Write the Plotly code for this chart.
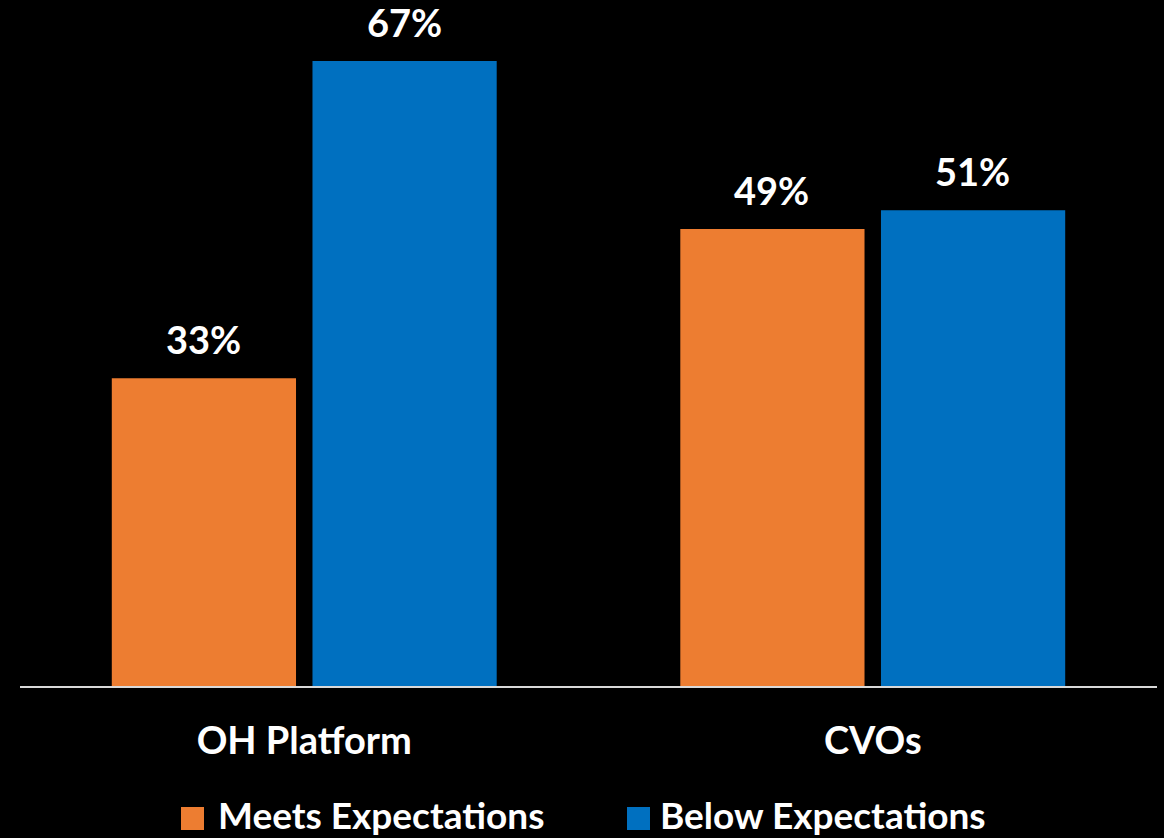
import plotly.graph_objects as go

# Survey results by group
categories = ["OH Platform", "CVOs"]
series_names = ["Meets Expectations", "Below Expectations"]
meets = [33, 49]
below = [67, 51]

W, H = 1164, 838
M_L, M_R, M_T, M_B = 20, 7, 33, 152
PLOT_W = W - M_L - M_R
PLOT_H = H - M_T - M_B

ORANGE = "#ED7D31"
BLUE = "#0070C0"
FONT = "Lato"


def paper_x(px):
    return (px - M_L) / PLOT_W


def paper_y(py):
    return (H - M_B - py) / PLOT_H


fig = go.Figure()
series = [(series_names[0], meets, ORANGE), (series_names[1], below, BLUE)]
for name, vals, color in series:
    fig.add_trace(go.Bar(
        name=name,
        x=categories,
        y=[v / 100 for v in vals],
        marker=dict(color=color, line=dict(width=0)),
        showlegend=False,
        hoverinfo="skip",
    ))

# Value labels above each bar
offsets = [-101, 100]
annotations = []
for (name, vals, color), dx in zip(series, offsets):
    for cat, v in zip(categories, vals):
        annotations.append(dict(
            x=cat, y=v / 100, xref="x", yref="y",
            text=f"<b>{v}%</b>", showarrow=False,
            xanchor="center", yanchor="bottom",
            xshift=dx, yshift=14,
            font=dict(family=FONT, size=38, color="white"),
        ))

# Legend drawn with swatches and labels below the axis
legend_items = [
    (series_names[0], ORANGE, 181, 217),
    (series_names[1], BLUE, 627, 659),
]
shapes = []
for name, color, sx, tx in legend_items:
    shapes.append(dict(
        type="rect", xref="paper", yref="paper",
        x0=paper_x(sx), x1=paper_x(sx + 23),
        y0=paper_y(830), y1=paper_y(807),
        fillcolor=color, line=dict(width=0),
    ))
    annotations.append(dict(
        x=paper_x(tx), y=paper_y(838), xref="paper", yref="paper",
        text=f"<b>{name}</b>", showarrow=False,
        xanchor="left", yanchor="bottom", borderpad=0,
        font=dict(family=FONT, size=37, color="white"),
    ))

fig.update_layout(
    width=W, height=H,
    margin=dict(l=M_L, r=M_R, t=M_T, b=M_B, pad=0),
    paper_bgcolor="black", plot_bgcolor="black",
    barmode="group", bargap=0.294, bargroupgap=0.082,
    annotations=annotations, shapes=shapes,
    showlegend=False,
    font=dict(family=FONT, color="white"),
)
fig.update_xaxes(
    showline=True, linecolor="#d9d9d9", linewidth=2,
    showgrid=False, zeroline=False,
    ticks="outside", ticklen=20, tickcolor="rgba(0,0,0,0)",
    tickfont=dict(family=FONT, size=38, color="white"),
    tickprefix="<b>", ticksuffix="</b>",
)
fig.update_yaxes(
    range=[0, 0.70], visible=False, showgrid=False, zeroline=False,
)

fig.write_html("out.html")
